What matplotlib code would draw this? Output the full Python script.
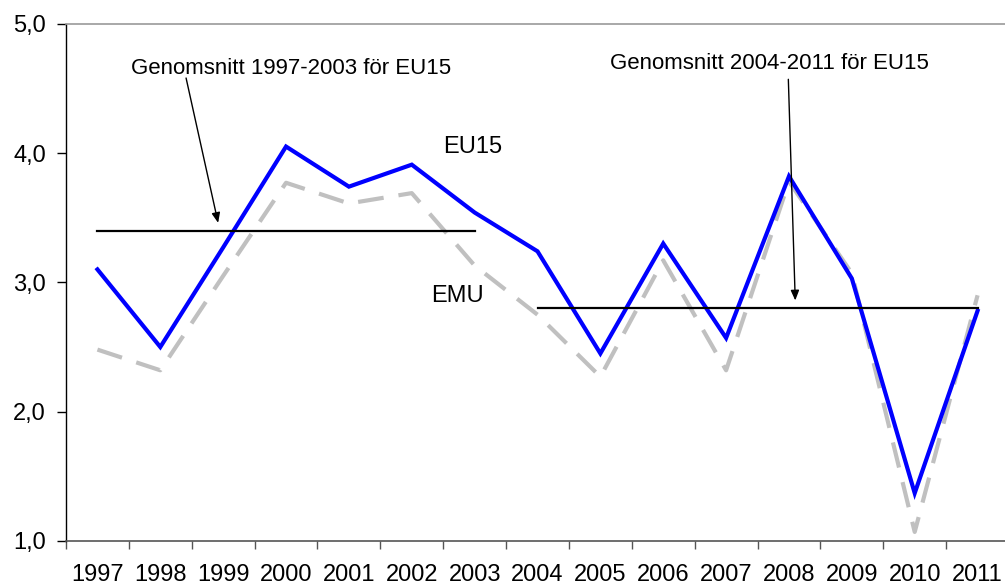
import matplotlib
matplotlib.use("Agg")
import matplotlib.pyplot as plt
from matplotlib.ticker import FixedLocator, FuncFormatter

plt.rcParams['font.family'] = ['Liberation Sans', 'DejaVu Sans']

years = ['1997', '1998', '1999', '2000', '2001', '2002', '2003', '2004',
         '2005', '2006', '2007', '2008', '2009', '2010', '2011']
eu15 = [3.10, 2.50, 3.27, 4.05, 3.74, 3.91, 3.54, 3.24,
        2.45, 3.30, 2.57, 3.82, 3.03, 1.37, 2.78]
emu = [2.48, 2.32, 3.05, 3.77, 3.61, 3.69, 3.13, 2.75,
       2.27, 3.17, 2.32, 3.78, 3.07, 1.07, 2.90]
avg_1997_2003 = 3.40
avg_2004_2011 = 2.80
yticks = [1.0, 2.0, 3.0, 4.0, 5.0]

fig = plt.figure(figsize=(10.05, 5.87), dpi=100)
ax = fig.add_axes([66/1005, 46/587, 943/1005, (541-23.7)/587])

x = list(range(len(years)))
ax.plot(x, emu, color='#C0C0C0', lw=3.0, dashes=(6.2, 3.6), zorder=2)
ax.plot(x, eu15, color='#0000FF', lw=3.0, zorder=3, solid_joinstyle='miter')

# averages
ax.plot([0, 6], [avg_1997_2003]*2, color='black', lw=1.6, zorder=4)
ax.plot([7, 14], [avg_2004_2011]*2, color='black', lw=1.6, zorder=4)

ax.set_xlim(-0.5, len(years) - 0.5)
ax.set_ylim(1.0, 5.0)

ax.set_yticks(yticks)
ax.yaxis.set_major_formatter(FuncFormatter(lambda v, p: f"{v:.1f}".replace('.', ',')))
ax.tick_params(axis='y', direction='out', length=6.5, width=1, color='black',
               labelsize=17, pad=8)

ax.set_xticks(x)
ax.set_xticklabels(years)
ax.xaxis.set_minor_locator(FixedLocator([i - 0.5 for i in range(len(years) + 1)]))
ax.tick_params(axis='x', which='major', length=0, labelsize=17, pad=16.5)
ax.tick_params(axis='x', which='minor', direction='out', length=5.5, width=1, color='#555555')

ax.spines['right'].set_visible(False)
ax.spines['top'].set_color('#999999')
ax.spines['top'].set_linewidth(1.2)
ax.spines['bottom'].set_color('#555555')
ax.spines['bottom'].set_linewidth(1.2)
ax.spines['left'].set_color('black')
ax.spines['left'].set_linewidth(1.0)

# labels
ax.text(5.97, 3.998, 'EU15', fontsize=17, ha='center', va='baseline')
ax.text(5.73, 2.85, 'EMU', fontsize=17, ha='center', va='baseline')

arrowprops = dict(arrowstyle='-|>,head_length=0.6,head_width=0.25', color='black', lw=1.0,
                  shrinkA=0, shrinkB=0)
ax.text(3.08, 4.61, 'Genomsnitt 1997-2003 för EU15', fontsize=16, ha='center', va='baseline')
ax.annotate('', xy=(1.92, 3.46), xytext=(1.41, 4.58), arrowprops=arrowprops)
ax.text(10.69, 4.648, 'Genomsnitt 2004-2011 för EU15', fontsize=16, ha='center', va='baseline')
ax.annotate('', xy=(11.10, 2.86), xytext=(10.99, 4.57), arrowprops=arrowprops)

fig.savefig('out.png', dpi=100)
